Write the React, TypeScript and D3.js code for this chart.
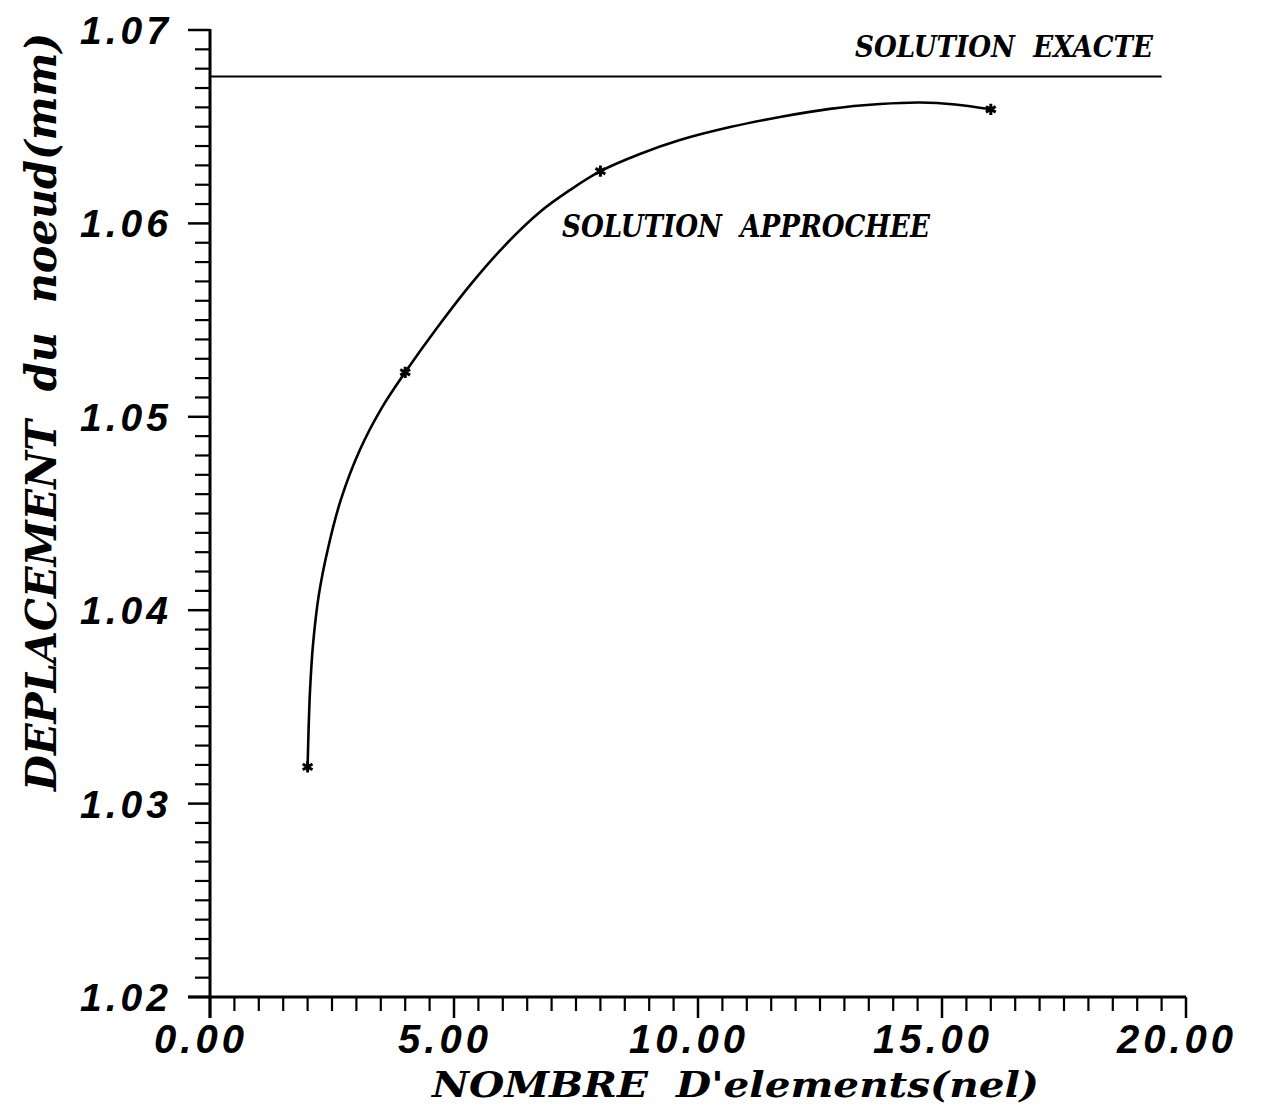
import React from "react";
import * as d3 from "d3";

// Computed results: nodal displacement vs number of elements
const nel = [2, 4, 8, 16];
const deplacement = [1.0319, 1.0523, 1.0627, 1.0659];

// Exact solution (horizontal reference line)
const exactValue = 1.0676;
const exactXRange = [0, 19.5];

// Smoothed curve drawn through the computed points (nel, deplacement)
const curveNel = [2.0, 2.02, 2.05, 2.11, 2.23, 2.42, 2.68, 3.07, 3.52, 4.0, 4.65, 5.33, 6.05, 6.76, 7.38, 8.0, 8.81, 9.63, 10.66, 11.68, 12.7, 13.73, 14.55, 15.27, 16.0];
const curveDep = [1.0319, 1.03381, 1.03587, 1.0382, 1.04079, 1.04322, 1.0457, 1.04828, 1.05046, 1.0523, 1.05459, 1.05681, 1.05888, 1.06059, 1.06173, 1.0627, 1.06359, 1.06431, 1.06498, 1.0655, 1.06592, 1.06617, 1.06625, 1.06615, 1.0659];

// Axis ticks
const xMajor = [0, 5, 10, 15, 20];
const xTickLabels = ["0.00", "5.00", "10.00", "15.00", "20.00"];
const yMajor = [1.02, 1.03, 1.04, 1.05, 1.06, 1.07];
const yTickLabels = ["1.02", "1.03", "1.04", "1.05", "1.06", "1.07"];

const xTitle = "NOMBRE  D'elements(nel)";
const yTitle = "DEPLACEMENT  du  noeud(mm)";
const labelExact = "SOLUTION  EXACTE";
const labelApprox = "SOLUTION  APPROCHEE";

const W = 1265;
const H = 1112;

const x = d3.scaleLinear().domain([0, 20]).range([210, 1186]);
const y = d3.scaleLinear().domain([1.02, 1.07]).range([997, 30]);

const serif = "'DejaVu Serif', 'Liberation Serif', serif";
const sans = "'Liberation Sans', Arial, sans-serif";

export default function App() {
  const xMinor = d3.range(0, 20.001, 0.5).filter((v) => Math.abs(v % 5) > 1e-6);
  const yMinor = d3
    .range(0, 51)
    .map((i) => 1.02 + i * 0.001)
    .filter((_, i) => i % 10 !== 0);

  const line = d3
    .line<number>()
    .x((_, i) => x(curveNel[i]))
    .y((_, i) => y(curveDep[i]))
    .curve(d3.curveCatmullRom.alpha(0.5));

  const star = d3.symbol(d3.symbolAsterisk, 90)() as string;

  const axisStroke = 3;

  return (
    <div style={{ position: "absolute", left: 0, top: 0 }}>
      <svg width={W} height={H} viewBox={`0 0 ${W} ${H}`} style={{ display: "block", background: "#fff" }}>
        <rect width={W} height={H} fill="#fff" />

        {/* Y axis */}
        <line x1={x(0)} x2={x(0)} y1={y(1.07) - 1} y2={1018} stroke="#000" strokeWidth={axisStroke} />
        {yMajor.map((v) => (
          <line key={"ym" + v} x1={x(0) - 22} x2={x(0)} y1={y(v)} y2={y(v)} stroke="#000" strokeWidth={2.5} />
        ))}
        {yMinor.map((v) => (
          <line key={"yn" + v} x1={x(0) - 15} x2={x(0)} y1={y(v)} y2={y(v)} stroke="#000" strokeWidth={2.2} />
        ))}
        {yMajor.map((v, i) => (
          <text
            key={"yl" + v}
            x={172}
            y={y(v) + 14}
            textAnchor="end"
            fontFamily={sans}
            fontStyle="italic"
            fontWeight="bold"
            fontSize={39}
            letterSpacing={4}
          >
            {yTickLabels[i]}
          </text>
        ))}

        {/* X axis */}
        <line x1={x(0) - 22} x2={x(20)} y1={y(1.02)} y2={y(1.02)} stroke="#000" strokeWidth={axisStroke} />
        {xMajor.map((v) => (
          <line key={"xm" + v} x1={x(v)} x2={x(v)} y1={y(1.02)} y2={y(1.02) + 21} stroke="#000" strokeWidth={2.5} />
        ))}
        {xMinor.map((v) => (
          <line key={"xn" + v} x1={x(v)} x2={x(v)} y1={y(1.02)} y2={y(1.02) + 14} stroke="#000" strokeWidth={2.2} />
        ))}
        {xMajor.map((v, i) => (
          <text
            key={"xl" + v}
            x={x(v) - 9}
            y={1053}
            textAnchor="middle"
            fontFamily={sans}
            fontStyle="italic"
            fontWeight="bold"
            fontSize={40}
            letterSpacing={4}
          >
            {xTickLabels[i]}
          </text>
        ))}

        {/* Axis titles */}
        <text
          x={432}
          y={1097}
          fontFamily={serif}
          fontStyle="italic"
          fontWeight="bold"
          fontSize={36}
          textLength={607}
          lengthAdjust="spacingAndGlyphs"
          style={{ whiteSpace: "pre" }}
        >
          {xTitle}
        </text>
        <text
          transform={`translate(56, 791) rotate(-90)`}
          fontFamily={serif}
          fontStyle="italic"
          fontWeight="bold"
          fontSize={43}
          textLength={758}
          lengthAdjust="spacingAndGlyphs"
          style={{ whiteSpace: "pre" }}
        >
          {yTitle}
        </text>

        {/* Exact solution */}
        <line
          x1={x(exactXRange[0])}
          x2={x(exactXRange[1])}
          y1={y(exactValue)}
          y2={y(exactValue)}
          stroke="#000"
          strokeWidth={2}
        />
        <text
          x={855}
          y={57}
          fontFamily={serif}
          fontStyle="italic"
          fontWeight="bold"
          fontSize={30}
          textLength={298}
          lengthAdjust="spacingAndGlyphs"
          style={{ whiteSpace: "pre" }}
        >
          {labelExact}
        </text>

        {/* Approximate solution */}
        <path d={line(curveNel) ?? ""} fill="none" stroke="#000" strokeWidth={2.6} strokeLinejoin="round" />
        {nel.map((n, i) => (
          <path
            key={"pt" + n}
            d={star}
            transform={`translate(${x(n)},${y(deplacement[i])})`}
            fill="none"
            stroke="#000"
            strokeWidth={3}
          />
        ))}
        <text
          x={562}
          y={237}
          fontFamily={serif}
          fontStyle="italic"
          fontWeight="bold"
          fontSize={31}
          textLength={368}
          lengthAdjust="spacingAndGlyphs"
          style={{ whiteSpace: "pre" }}
        >
          {labelApprox}
        </text>
      </svg>
    </div>
  );
}
